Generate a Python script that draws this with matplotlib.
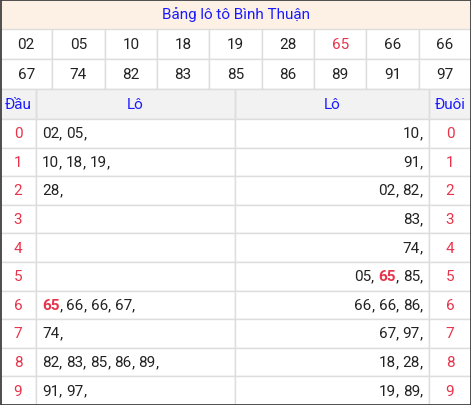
import matplotlib
matplotlib.use("Agg")
import matplotlib.pyplot as plt
from matplotlib.patches import Rectangle

title = "Bảng lô tô Bình Thuận"
row1 = ["02", "05", "10", "18", "19", "28", "65", "66", "66"]
row2 = ["67", "74", "82", "83", "85", "86", "89", "91", "97"]
special = "65"
heads = [str(i) for i in range(10)]
dau_lo = [["02", "05"], ["10", "18", "19"], ["28"], [], [], [], ["65", "66", "66", "67"],
          ["74"], ["82", "83", "85", "86", "89"], ["91", "97"]]
duoi_lo = [["10"], ["91"], ["02", "82"], ["83"], ["74"], ["05", "65", "85"], ["66", "66", "86"],
           ["67", "97"], ["18", "28"], ["19", "89"]]

plt.rcParams['font.family'] = ['Roboto', 'DejaVu Sans']
W, H = 471, 406
fig = plt.figure(figsize=(W/100, H/100), dpi=100)
ax = fig.add_axes([0, 0, 1, 1])
ax.set_xlim(0, W); ax.set_ylim(H, 0); ax.axis('off')

grid = '#dddddd'; blue = '#1a1aff'; red = '#e8334a'; fs = 11
ax.add_patch(Rectangle((0, 0), W, 30, fc='#fdf1e6', ec='none'))
ax.text(W/2, 15, title, color=blue, ha='center', va='center', fontsize=fs)
cw = W/9
for r, vals in enumerate([row1, row2]):
    y0 = 30 + 30*r
    for i, v in enumerate(vals):
        ax.add_patch(Rectangle((i*cw, y0), cw, 30, fc='white', ec=grid, lw=1))
        ax.text(i*cw + cw/2, y0 + 15, v, color=red if v == special else '#222222',
                ha='center', va='center', fontsize=fs)
xs = [0, 36, 235, 429, W]
ax.add_patch(Rectangle((0, 90), W, 30, fc='#f2f2f2', ec='none'))
for j, lab in enumerate(["Đầu", "Lô", "Lô", "Đuôi"]):
    ax.add_patch(Rectangle((xs[j], 90), xs[j+1]-xs[j], 30, fc='none', ec=grid, lw=1))
    ax.text((xs[j]+xs[j+1])/2, 105, lab, color=blue, ha='center', va='center', fontsize=fs)
rh = (H - 120)/10

def draw_list(items, x, y, align):
    parts = []
    for it in items:
        parts.append((it, it == special))
        parts.append((", ", False))
    if not parts:
        return
    parts[-1] = (",", False)
    if align == 'right':
        parts = parts[::-1]
    r = fig.canvas.get_renderer()
    cx = x
    for t, sp in parts:
        txt = ax.text(cx, y, t, color=red if sp else '#222222', fontweight='bold' if sp else 'normal',
                      ha='left' if align == 'left' else 'right', va='center', fontsize=fs)
        w = txt.get_window_extent(renderer=r).width
        cx = cx + w if align == 'left' else cx - w

for i in range(10):
    y0 = 120 + i*rh
    for j in range(4):
        ax.add_patch(Rectangle((xs[j], y0), xs[j+1]-xs[j], rh, fc='white', ec=grid, lw=1))
    yc = y0 + rh/2
    ax.text(18, yc, heads[i], color=red, ha='center', va='center', fontsize=fs)
    ax.text((xs[3]+W)/2, yc, heads[i], color=red, ha='center', va='center', fontsize=fs)
    draw_list(dau_lo[i], 42, yc, 'left')
    draw_list(duoi_lo[i], 423, yc, 'right')
ax.add_patch(Rectangle((0.5, 0.5), W-1, H-1, fc='none', ec='#333333', lw=1.2))
fig.savefig('out.png', dpi=100)
